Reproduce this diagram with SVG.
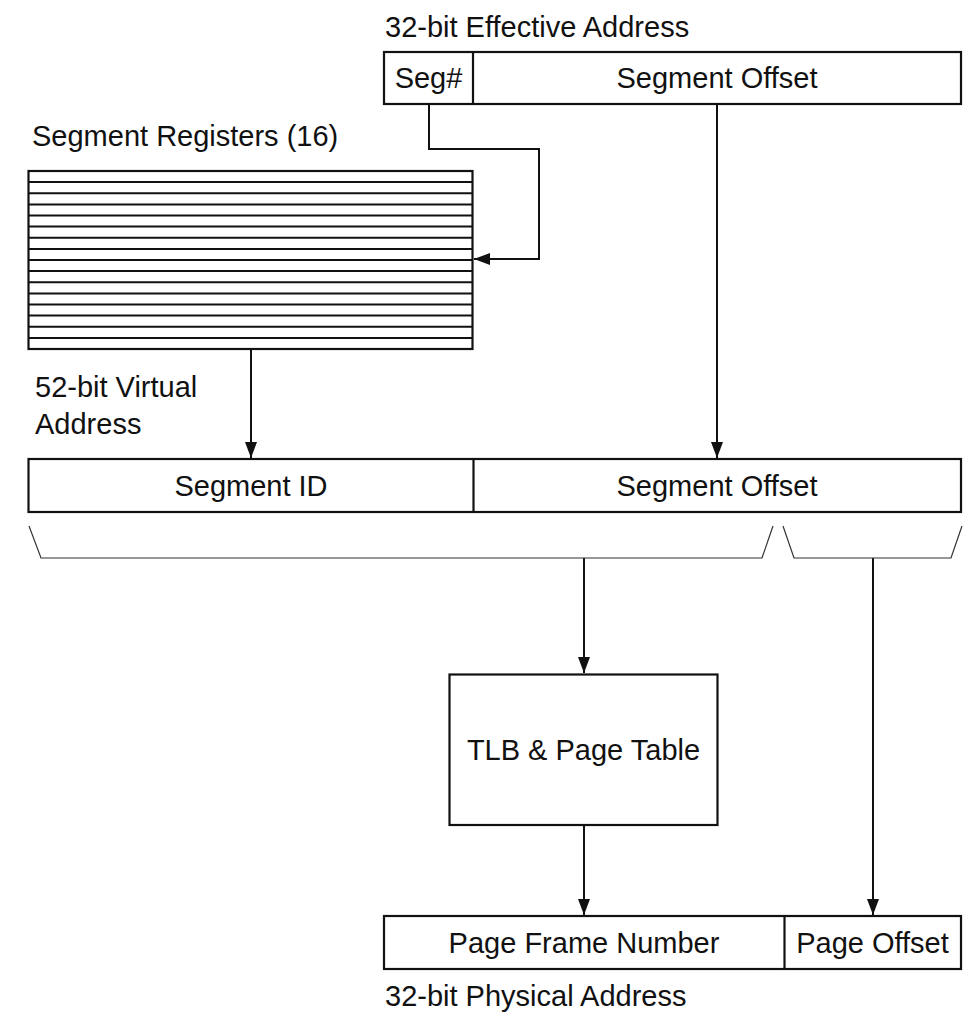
<svg xmlns="http://www.w3.org/2000/svg" width="966" height="1013" viewBox="0 0 966 1013">
  <defs>
    <style>
      .box { fill: #ffffff; stroke: #111111; stroke-width: 2.2; }
      .div { stroke: #111111; stroke-width: 2.2; }
      .reg { stroke: #111111; stroke-width: 2; }
      .wire { fill: none; stroke: #111111; stroke-width: 2; }
      .brace { fill: none; stroke: #333333; stroke-width: 1.2; }
      text { font-family: "Liberation Sans", Arial, Helvetica, sans-serif; font-size: 29px; fill: #111111; }
      .mid { text-anchor: middle; }
    </style>
    <marker id="arrow" markerUnits="userSpaceOnUse" markerWidth="16" markerHeight="12" refX="16" refY="6" orient="auto">
      <path d="M0,0 L16,6 L0,12 Z" fill="#111111"/>
    </marker>
  </defs>
  <rect width="966" height="1013" fill="#ffffff"/>

  <!-- connectors -->
  <g id="connectors">
    <path class="wire" d="M429,104 V149 H539 V259 H474" marker-end="url(#arrow)"/>
    <path class="wire" d="M717,104 V458" marker-end="url(#arrow)"/>
    <path class="wire" d="M251,349 V458" marker-end="url(#arrow)"/>
    <path class="wire" d="M584,558 V673" marker-end="url(#arrow)"/>
    <path class="wire" d="M873,558 V915" marker-end="url(#arrow)"/>
    <path class="wire" d="M584,825 V915" marker-end="url(#arrow)"/>
    <!-- bit-field braces under the virtual address -->
    <path class="brace" d="M29,526 L41,558 H762 L773,526"/>
    <path class="brace" d="M783,526 L794,558 H951 L962,526"/>
  </g>

  <!-- 32-bit effective address -->
  <g id="effective-address">
    <text x="385" y="37">32-bit Effective Address</text>
    <rect class="box" x="384" y="52" width="577" height="52"/>
    <line class="div" x1="473" y1="52" x2="473" y2="104"/>
    <text class="mid" x="428.5" y="88">Seg#</text>
    <text class="mid" x="717" y="88">Segment Offset</text>
  </g>

  <!-- segment register file -->
  <g id="segment-registers">
    <text x="32" y="146">Segment Registers (16)</text>
    <rect class="box" x="28.5" y="171" width="444" height="178"/>
    <g class="reg">
      <line x1="28.5" y1="182.1" x2="472.5" y2="182.1"/>
      <line x1="28.5" y1="193.3" x2="472.5" y2="193.3"/>
      <line x1="28.5" y1="204.4" x2="472.5" y2="204.4"/>
      <line x1="28.5" y1="215.5" x2="472.5" y2="215.5"/>
      <line x1="28.5" y1="226.6" x2="472.5" y2="226.6"/>
      <line x1="28.5" y1="237.8" x2="472.5" y2="237.8"/>
      <line x1="28.5" y1="248.9" x2="472.5" y2="248.9"/>
      <line x1="28.5" y1="260" x2="472.5" y2="260"/>
      <line x1="28.5" y1="271.1" x2="472.5" y2="271.1"/>
      <line x1="28.5" y1="282.3" x2="472.5" y2="282.3"/>
      <line x1="28.5" y1="293.4" x2="472.5" y2="293.4"/>
      <line x1="28.5" y1="304.5" x2="472.5" y2="304.5"/>
      <line x1="28.5" y1="315.6" x2="472.5" y2="315.6"/>
      <line x1="28.5" y1="326.8" x2="472.5" y2="326.8"/>
      <line x1="28.5" y1="337.9" x2="472.5" y2="337.9"/>
    </g>
  </g>

  <!-- 52-bit virtual address -->
  <g id="virtual-address">
    <text x="35" y="397">52-bit Virtual</text>
    <text x="35" y="434">Address</text>
    <rect class="box" x="28.5" y="459" width="932.5" height="53"/>
    <line class="div" x1="473.5" y1="459" x2="473.5" y2="512"/>
    <text class="mid" x="251" y="496">Segment ID</text>
    <text class="mid" x="717" y="496">Segment Offset</text>
  </g>

  <!-- translation -->
  <g id="tlb-page-table">
    <rect class="box" x="449.5" y="674.5" width="268" height="150.5"/>
    <text class="mid" x="583.5" y="760">TLB &amp; Page Table</text>
  </g>

  <!-- 32-bit physical address -->
  <g id="physical-address">
    <rect class="box" x="384" y="916" width="577" height="53"/>
    <line class="div" x1="784.5" y1="916" x2="784.5" y2="969"/>
    <text class="mid" x="584" y="953">Page Frame Number</text>
    <text class="mid" x="872.5" y="953">Page Offset</text>
    <text x="385" y="1006">32-bit Physical Address</text>
  </g>
</svg>
